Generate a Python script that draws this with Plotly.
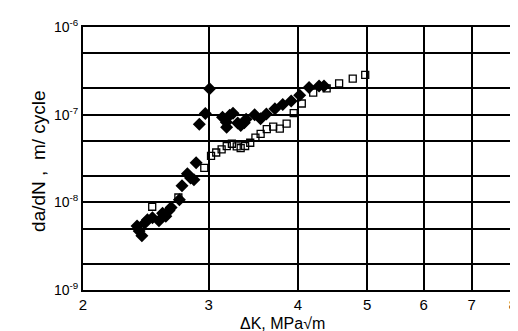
import plotly.graph_objects as go

# Filled diamonds: dK (MPa*sqrt(m)), da/dN (m/cycle)
dk_filled = [2.381, 2.397, 2.418, 2.439, 2.462, 2.502, 2.555, 2.585, 2.612, 2.639,
             2.657, 2.729, 2.752, 2.800, 2.829, 2.860, 2.880, 2.910, 2.967, 3.008,
             3.136, 3.175, 3.178, 3.209, 3.244, 3.293, 3.326, 3.364, 3.384, 3.478,
             3.545, 3.612, 3.713, 3.808, 3.913, 4.022, 4.145, 4.281, 4.350]
dadn_filled = [5.36e-9, 4.70e-9, 4.15e-9, 5.79e-9, 6.33e-9, 6.65e-9, 6.18e-9, 7.52e-9, 6.95e-9, 8.09e-9,
               8.73e-9, 1.07e-8, 1.55e-8, 2.12e-8, 1.89e-8, 1.81e-8, 2.82e-8, 7.75e-8, 1.03e-7, 1.98e-7,
               9.32e-8, 8.18e-8, 7.19e-8, 9.86e-8, 1.04e-7, 8.02e-8, 7.51e-8, 8.10e-8, 8.85e-8, 1.00e-7,
               9.01e-8, 1.02e-7, 1.17e-7, 1.31e-7, 1.43e-7, 1.66e-7, 2.04e-7, 2.12e-7, 2.12e-7]

# Open squares
dk_open = [2.50, 2.72, 2.957, 3.022, 3.073, 3.127, 3.179, 3.232, 3.283, 3.325,
           3.373, 3.429, 3.487, 3.546, 3.617, 3.693, 3.772, 3.856, 3.945, 4.049,
           4.201, 4.387, 4.567, 4.772, 4.968]
dadn_open = [8.9e-9, 1.135e-8, 2.47e-8, 3.39e-8, 3.70e-8, 4.02e-8, 4.37e-8, 4.66e-8, 4.35e-8, 4.15e-8,
             4.39e-8, 4.78e-8, 5.47e-8, 6.04e-8, 6.85e-8, 7.31e-8, 6.92e-8, 7.91e-8, 1.04e-7, 1.34e-7,
             1.78e-7, 1.99e-7, 2.28e-7, 2.58e-7, 2.84e-7]

x_tickvals = [2, 3, 4, 5, 6, 7, 8]
x_ticktext = ["2", "3", "4", "5", "6", "7", "8"]
y_tickvals = [1e-9, 2e-9, 5e-9, 1e-8, 2e-8, 5e-8, 1e-7, 2e-7, 5e-7, 1e-6]
y_ticktext = ["10<sup>-9</sup>", "", "", "10<sup>-8</sup>", "", "", "10<sup>-7</sup>", "", "", "10<sup>-6</sup>"]

FONT = "Liberation Sans, DejaVu Sans, sans-serif"

fig = go.Figure()
fig.add_trace(go.Scatter(
    x=dk_open, y=dadn_open, mode="markers",
    marker=dict(symbol="square-open", size=7, color="black", line=dict(width=1.3, color="black")),
    showlegend=False))
fig.add_trace(go.Scatter(
    x=dk_filled, y=dadn_filled, mode="markers",
    marker=dict(symbol="diamond", size=10, color="black"),
    showlegend=False))

fig.update_layout(
    width=518, height=331,
    margin=dict(l=75, r=9, t=14, b=49),
    paper_bgcolor="white", plot_bgcolor="white",
    font=dict(family=FONT, color="black", size=14),
    xaxis=dict(type="log", range=[0.30103, 0.90309],
               tickvals=x_tickvals, ticktext=x_ticktext,
               showgrid=True, gridcolor="black", gridwidth=1.5,
               showline=True, linecolor="black", linewidth=2, mirror=True,
               ticks="", zeroline=False, tickfont=dict(size=15)),
    yaxis=dict(type="log", range=[-9, -6],
               tickvals=y_tickvals, ticktext=y_ticktext,
               showgrid=True, gridcolor="black", gridwidth=1.5,
               showline=True, linecolor="black", linewidth=2, mirror=True,
               ticks="", zeroline=False, tickfont=dict(size=14)),
    annotations=[
        dict(text="\u0394K, MPa\u221am", x=276, y=316, xref="paper", yref="paper",
             showarrow=False, font=dict(size=16)),
        dict(text="da/dN ,  m/ cycle", x=30, y=150, textangle=-90,
             showarrow=False, font=dict(size=19)),
    ],
)
# convert annotation positions from pixels to paper coordinates
pw = 518 - 75 - 9
ph = 331 - 14 - 49
for ann in fig.layout.annotations:
    ann.x = (ann.x - 75) / pw
    ann.y = (331 - 49 - ann.y) / ph
    ann.xref = "paper"
    ann.yref = "paper"
    ann.xanchor = "center"
    ann.yanchor = "middle"

fig.write_html("out.html")
